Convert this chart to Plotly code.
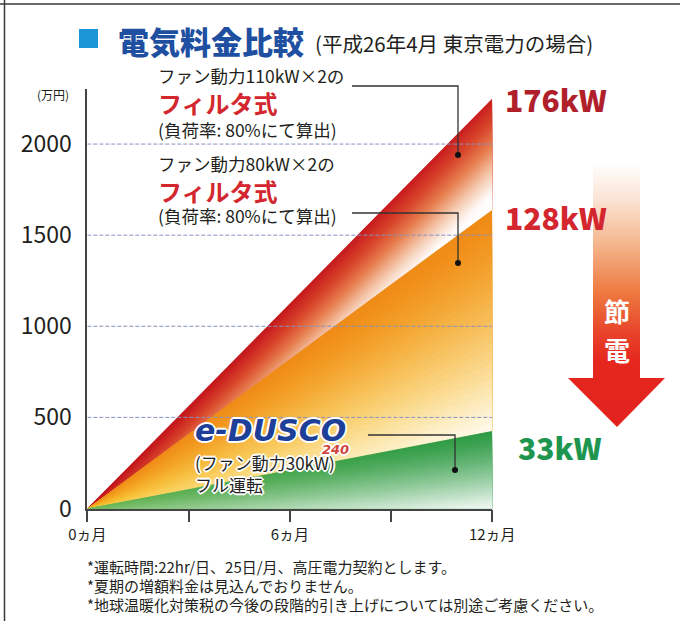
import numpy as np
import plotly.graph_objects as go

W, H = 680, 621

# cumulative electricity cost (万円) over 12 months
months = [0, 12]
cost_176kw = [0, 2250]   # ファン動力110kW×2 フィルタ式
cost_128kw = [0, 1640]   # ファン動力80kW×2 フィルタ式
cost_33kw = [0, 425]     # e-DUSCO 240 フル運転
power_labels = ["176kW", "128kW", "33kW"]

y_tickvals = [0, 500, 1000, 1500, 2000]
x_tickvals = [0, 3, 6, 9, 12]
x_ticktext = ["0ヵ月", "", "6ヵ月", "", "12ヵ月"]

X_RANGE = [0, 12]
Y_RANGE = [0, 2300]

FONT = "Noto Sans CJK JP"
INK = "#231F20"

# plot area placement (pixels)
PLOT_L, PLOT_R = 87.3, 492.3
PLOT_T, PLOT_B = 89.4, 508.5


def px(x):
    return x / W


def py(y):
    return 1 - y / H


# ---------- colour helpers ----------
def _rgb(h):
    h = h.lstrip("#")
    return np.array([int(h[i:i + 2], 16) for i in (0, 2, 4)], float)


WHITE = np.array([255.0, 255.0, 255.0])


def ramp(stops, t):
    t = float(np.clip(t, 0, 1))
    pos = [p for p, _ in stops]
    cols = np.array([_rgb(c) for _, c in stops])
    return np.array([np.interp(t, pos, cols[:, i]) for i in range(3)])


def css(c):
    c = np.clip(np.round(c), 0, 255).astype(int)
    return f"rgb({c[0]},{c[1]},{c[2]})"


RED_RAMP = [(0.0, "#BE141C"), (0.12, "#C81D1E"), (0.35, "#D8432A"),
            (0.58, "#E7804F"), (0.8, "#F5C9AE"), (1.0, "#FFFFFF")]
ORANGE_RAMP = [(0.0, "#EF8A17"), (0.4, "#F39F1A"), (0.75, "#F6B51F"), (1.0, "#F8C634")]


def red_shade(s, u):
    return ramp(RED_RAMP, 0.12 * u + s ** 0.9 * u ** 0.65)


def orange_shade(s, u):
    base = ramp(ORANGE_RAMP, s)
    w = 0.92 * s ** 1.7 * u ** 0.85
    return base * (1 - w) + WHITE * w


def green_shade(s, u):
    a = 0.7 * (1 - u) ** 1.5
    base = _rgb("#2E9B45") * (1 - a) + _rgb("#8BC560") * a
    w = 0.95 * s ** 1.3 * u ** 0.7
    return base * (1 - w) + WHITE * w


fig = go.Figure()


def add_band(upper, lower, shade, n=30):
    """Fill the wedge between two cost lines with a soft 2-D gradient,
    built from nested fills that each carry a horizontal gradient."""
    xs = np.asarray(months, float)
    up = np.asarray(upper, float)
    lo = np.asarray(lower, float)
    u_pos = np.linspace(0, 1, 9)
    for k in range(n):
        s_edge = k / n
        s_col = (k + 0.5) / n
        edge = up + s_edge * (lo - up)
        poly_x = np.concatenate([xs, xs[::-1]])
        poly_y = np.concatenate([edge, lo[::-1]])
        cs = [[float(u), css(shade(s_col, u))] for u in u_pos]
        fig.add_trace(go.Scatter(
            x=poly_x, y=poly_y, mode="none", fill="toself",
            fillgradient=dict(type="horizontal", colorscale=cs,
                              start=float(xs[0]), stop=float(xs[-1])),
            hoverinfo="skip", showlegend=False, xaxis="x", yaxis="y"))


zero = [0 for _ in months]
add_band(cost_176kw, cost_128kw, red_shade)
add_band(cost_128kw, cost_33kw, orange_shade)
add_band(cost_33kw, zero, green_shade)

# ---------- 節電 arrow (decoration, pixel space on overlay axes) ----------
arrow_px = [(593, 163), (640, 163), (640, 378), (665, 378), (617, 427),
            (568, 378), (593, 378), (593, 163)]
fig.add_trace(go.Scatter(
    x=[p[0] for p in arrow_px], y=[H - p[1] for p in arrow_px],
    mode="none", fill="toself",
    fillgradient=dict(type="vertical", start=H - 427, stop=H - 163,
                      colorscale=[[0, "#E3221D"], [0.25, "#E5271F"], [0.36, "#E8452A"],
                                  [0.51, "#EE7A40"], [0.7, "#F5B890"], [0.86, "#FBE3D3"],
                                  [1, "#FFFFFF"]]),
    hoverinfo="skip", showlegend=False, xaxis="x2", yaxis="y2"))

shapes = []
# dashed guide lines on top of the fills
for v in y_tickvals[1:]:
    shapes.append(dict(type="line", xref="x", yref="y", x0=X_RANGE[0], x1=X_RANGE[1],
                       y0=v, y1=v, layer="above",
                       line=dict(color="#8890C0", width=1, dash="4px,2px")))

# frame lines
shapes.append(dict(type="line", xref="paper", yref="paper", x0=0, x1=1,
                   y0=py(4), y1=py(4), line=dict(color="#3A3A3A", width=1.5)))
shapes.append(dict(type="line", xref="paper", yref="paper", x0=px(4.5), x1=px(4.5),
                   y0=0, y1=1, line=dict(color="#3A3A3A", width=1.5)))

# title marker
shapes.append(dict(type="rect", xref="paper", yref="paper", x0=px(79), x1=px(98),
                   y0=py(48), y1=py(29), fillcolor="#1B95D6", line=dict(width=0)))

# leader lines with end dots
leaders = [[(352, 86), (458, 86), (458, 155)],
           [(352, 213), (458, 213), (458, 263)],
           [(368, 435), (455, 435), (455, 470)]]
for pts in leaders:
    path = "M " + " L ".join(f"{px(a):.5f},{py(b):.5f}" for a, b in pts)
    shapes.append(dict(type="path", xref="paper", yref="paper", path=path,
                       line=dict(color="#333333", width=1.3)))
    ex, ey = pts[-1]
    shapes.append(dict(type="circle", xref="paper", yref="paper",
                       x0=px(ex - 3), x1=px(ex + 3), y0=py(ey + 3), y1=py(ey - 3),
                       fillcolor="#111111", line=dict(width=0)))

HALO = "2px 0 0 #fff, -2px 0 0 #fff, 0 2px 0 #fff, 0 -2px 0 #fff, 1px 1px 0 #fff, -1px -1px 0 #fff, 1px -1px 0 #fff, -1px 1px 0 #fff"

ann = []


def text(x, y, s, size, color=INK, weight=400, family=FONT, xanchor="left",
         style="normal", shadow=None):
    f = dict(family=family, size=size, color=color, weight=weight, style=style)
    if shadow:
        f["shadow"] = shadow
    ann.append(dict(x=px(x), y=py(y), xref="paper", yref="paper", text=s,
                    showarrow=False, xanchor=xanchor, yanchor="middle", align="left",
                    font=f))


text(116, 41, "電気料金比較", 31, color="#1F4FA0", weight=900)
text(313, 43, "(平成26年4月 東京電力の場合)", 20.5)

text(156, 76, "ファン動力110kW×2の", 17.5)
text(156, 103, "フィルタ式", 24, color="#D3262E", weight=700)
text(156, 129, "(負荷率: 80%にて算出)", 17.5)

text(156, 163, "ファン動力80kW×2の", 17.5)
text(156, 190, "フィルタ式", 24, color="#D3262E", weight=700)
text(156, 215, "(負荷率: 80%にて算出)", 17.5)

text(193, 430, "e-DUSCO", 30, color="#1D3F98", weight=700, family="DejaVu Sans",
     style="italic", shadow=HALO)
text(320, 449, "240", 13, color="#D0463C", weight=700, family="DejaVu Sans",
     style="italic", shadow=HALO)
text(193, 474, "(ファン動力30kW)<br>フル運転", 17, shadow=HALO)

text(503, 99, power_labels[0], 30, color="#B0202A", weight=900)
text(503, 217, power_labels[1], 30, color="#D3262E", weight=900)
text(516, 447, power_labels[2], 30, color="#1E9650", weight=900)

text(617, 310, "節", 26, color="#FFFFFF", weight=700, xanchor="center")
text(617, 350, "電", 26, color="#FFFFFF", weight=700, xanchor="center")

text(35, 94, "(万円)", 12)

text(85, 566, "*運転時間:22hr/日、25日/月、高圧電力契約とします。", 15)
text(85, 585, "*夏期の増額料金は見込んでおりません。", 15)
text(85, 604, "*地球温暖化対策税の今後の段階的引き上げについては別途ご考慮ください。", 15)

fig.update_layout(
    width=W, height=H, autosize=False,
    margin=dict(l=0, r=0, t=0, b=0, pad=0, autoexpand=False),
    paper_bgcolor="white", plot_bgcolor="rgba(0,0,0,0)",
    showlegend=False,
    font=dict(family=FONT, color=INK),
    xaxis=dict(domain=[PLOT_L / W, PLOT_R / W], range=X_RANGE, anchor="y",
               tickvals=x_tickvals, ticktext=x_ticktext,
               ticks="outside", ticklen=12, tickwidth=1.5, tickcolor="#444444",
               showline=True, linecolor="#444444", linewidth=1.8,
               showgrid=False, zeroline=False, automargin=False,
               tickfont=dict(family=FONT, size=15, color=INK), fixedrange=True),
    yaxis=dict(domain=[1 - PLOT_B / H, 1 - PLOT_T / H], range=Y_RANGE, anchor="x",
               tickvals=y_tickvals, ticks="", showline=True,
               linecolor="#444444", linewidth=1.8, showgrid=False, zeroline=False,
               ticklabelstandoff=9, automargin=False,
               tickfont=dict(family=FONT, size=23, color=INK), fixedrange=True),
    xaxis2=dict(domain=[0, 1], range=[0, W], anchor="y2", visible=False,
                fixedrange=True, automargin=False),
    yaxis2=dict(domain=[0, 1], range=[0, H], anchor="x2", visible=False,
                fixedrange=True, automargin=False),
    shapes=shapes,
    annotations=ann,
)

fig.write_html("out.html")
